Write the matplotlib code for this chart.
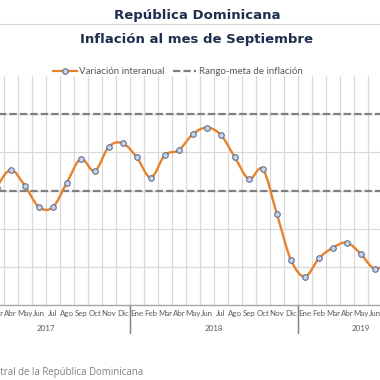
import matplotlib
matplotlib.use('Agg')
import matplotlib.pyplot as plt
from matplotlib.path import Path
from matplotlib.patches import PathPatch
from matplotlib.lines import Line2D

# Monthly year-on-year inflation, Jan 2017 - Sep 2019 (%)
months = ['Ene', 'Feb', 'Mar', 'Abr', 'May', 'Jun', 'Jul', 'Ago', 'Sep', 'Oct', 'Nov', 'Dic']
years = ['2017', '2018', '2019']
inflation = [1.95, 2.20, 3.07, 3.54, 3.13, 2.57, 2.56, 3.20, 3.83, 3.51, 4.15, 4.24,
             3.87, 3.34, 3.93, 4.06, 4.48, 4.65, 4.46, 3.87, 3.30, 3.56, 2.38, 1.18,
             0.74, 1.22, 1.50, 1.63, 1.33, 0.94, 1.20, 1.60, 2.00]
target_low = 3.0
target_high = 5.0

labels = (months * 3)[:len(inflation)]
x = list(range(len(inflation)))

W, H = 380, 380
fig = plt.figure(figsize=(3.8, 3.8), dpi=100)

# axes placed so that the left and right parts fall outside the picture (cropped look)
px_left, px_right, px_top, px_bottom = -38.3, 424.0, 76.2, 304.8
ax = fig.add_axes([px_left / W, (H - px_bottom) / H,
                   (px_right - px_left) / W, (px_bottom - px_top) / H])
ax.set_xlim(-0.5, len(inflation) - 0.5)
ax.set_ylim(0, 6)

# grid
ax.set_yticks([1, 2, 3, 4, 5])
ax.set_xticks(x)
ax.set_xticks([i - 0.5 for i in range(len(inflation) + 1)], minor=True)
ax.grid(axis='y', which='major', color='#d9d9d9', lw=0.9)
ax.grid(axis='x', which='minor', color='#d9d9d9', lw=0.9)
ax.set_axisbelow(True)
ax.tick_params(axis='both', which='both', length=0)
ax.set_yticklabels([])
ax.set_xticklabels(labels, fontsize=5.7, color='#595959', family='Lato')
ax.tick_params(axis='x', pad=4)
for s in ['top', 'right', 'left']:
    ax.spines[s].set_visible(False)
ax.spines['bottom'].set_color('#a6a6a6')
ax.spines['bottom'].set_linewidth(1.0)

# target range
ax.axhline(target_high, color='#7f7f7f', lw=1.6, ls=(0, (3.3, 1.4)))
ax.axhline(target_low, color='#7f7f7f', lw=1.6, ls=(0, (3.3, 1.4)))

# smoothed line (bezier through the points, like Excel)
pts = list(zip(x, inflation))
verts = [pts[0]]
codes = [Path.MOVETO]
n = len(pts)
for i in range(n - 1):
    p0 = pts[max(i - 1, 0)]
    p1 = pts[i]
    p2 = pts[i + 1]
    p3 = pts[min(i + 2, n - 1)]
    c1 = (p1[0] + (p2[0] - p0[0]) / 6, p1[1] + (p2[1] - p0[1]) / 6)
    c2 = (p2[0] - (p3[0] - p1[0]) / 6, p2[1] - (p3[1] - p1[1]) / 6)
    verts += [c1, c2, p2]
    codes += [Path.CURVE4] * 3
ax.add_patch(PathPatch(Path(verts, codes), fill=False, edgecolor='#e6832e', lw=1.7, zorder=3))
ax.plot(x, inflation, ls='none', marker='o', ms=4.0, mfc='#c9d3e3', mec='#5b6f94', mew=0.8, zorder=4)

# year labels and separators under the axis
tr = ax.get_xaxis_transform()
for k, yr in enumerate(years):
    start = k * 12
    end = min(start + 11, len(inflation) - 1)
    ax.text((start + end) / 2, -0.103, yr, transform=tr, ha='center', va='center',
            fontsize=5.8, color='#595959', family='Lato')
    if k > 0:
        ax.plot([start - 0.5, start - 0.5], [0, -0.125], transform=tr, color='#7f7f7f',
                lw=1.0, clip_on=False)

# titles
fig.text(197 / W, 1 - 15 / H, 'República Dominicana', ha='center', va='center',
         fontsize=9.5, fontweight='bold', color='#1f2d4e')
fig.text(197 / W, 1 - 40 / H, 'Inflación al mes de Septiembre', ha='center', va='center',
         fontsize=9.5, fontweight='bold', color='#1f2d4e')
fig.add_artist(Line2D([0, 1], [1 - 24 / H, 1 - 24 / H], color='#d9d9d9', lw=0.9))

# legend
handles = [Line2D([], [], color='#e6832e', lw=1.6, marker='o', ms=4.0, mfc='#c9d3e3',
                  mec='#5b6f94', mew=0.8),
           Line2D([], [], color='#7f7f7f', lw=1.6, ls=(0, (3.3, 1.4)))]
fig.legend(handles, ['Variación interanual', 'Rango-meta de inflación'],
           loc='center', bbox_to_anchor=(178 / W, 1 - 72 / H), ncol=2, frameon=False,
           prop={'family': 'Lato', 'size': 7.0}, labelcolor='#595959',
           handlelength=2.4, handletextpad=0.3, columnspacing=0.8)

# source
fig.text(143 / W, 1 - 373 / H, 'Fuente: Banco Central de la República Dominicana',
         ha='right', va='center', fontsize=6.9, color='#808080', family='Open Sans')

fig.savefig('out.png', dpi=100)
